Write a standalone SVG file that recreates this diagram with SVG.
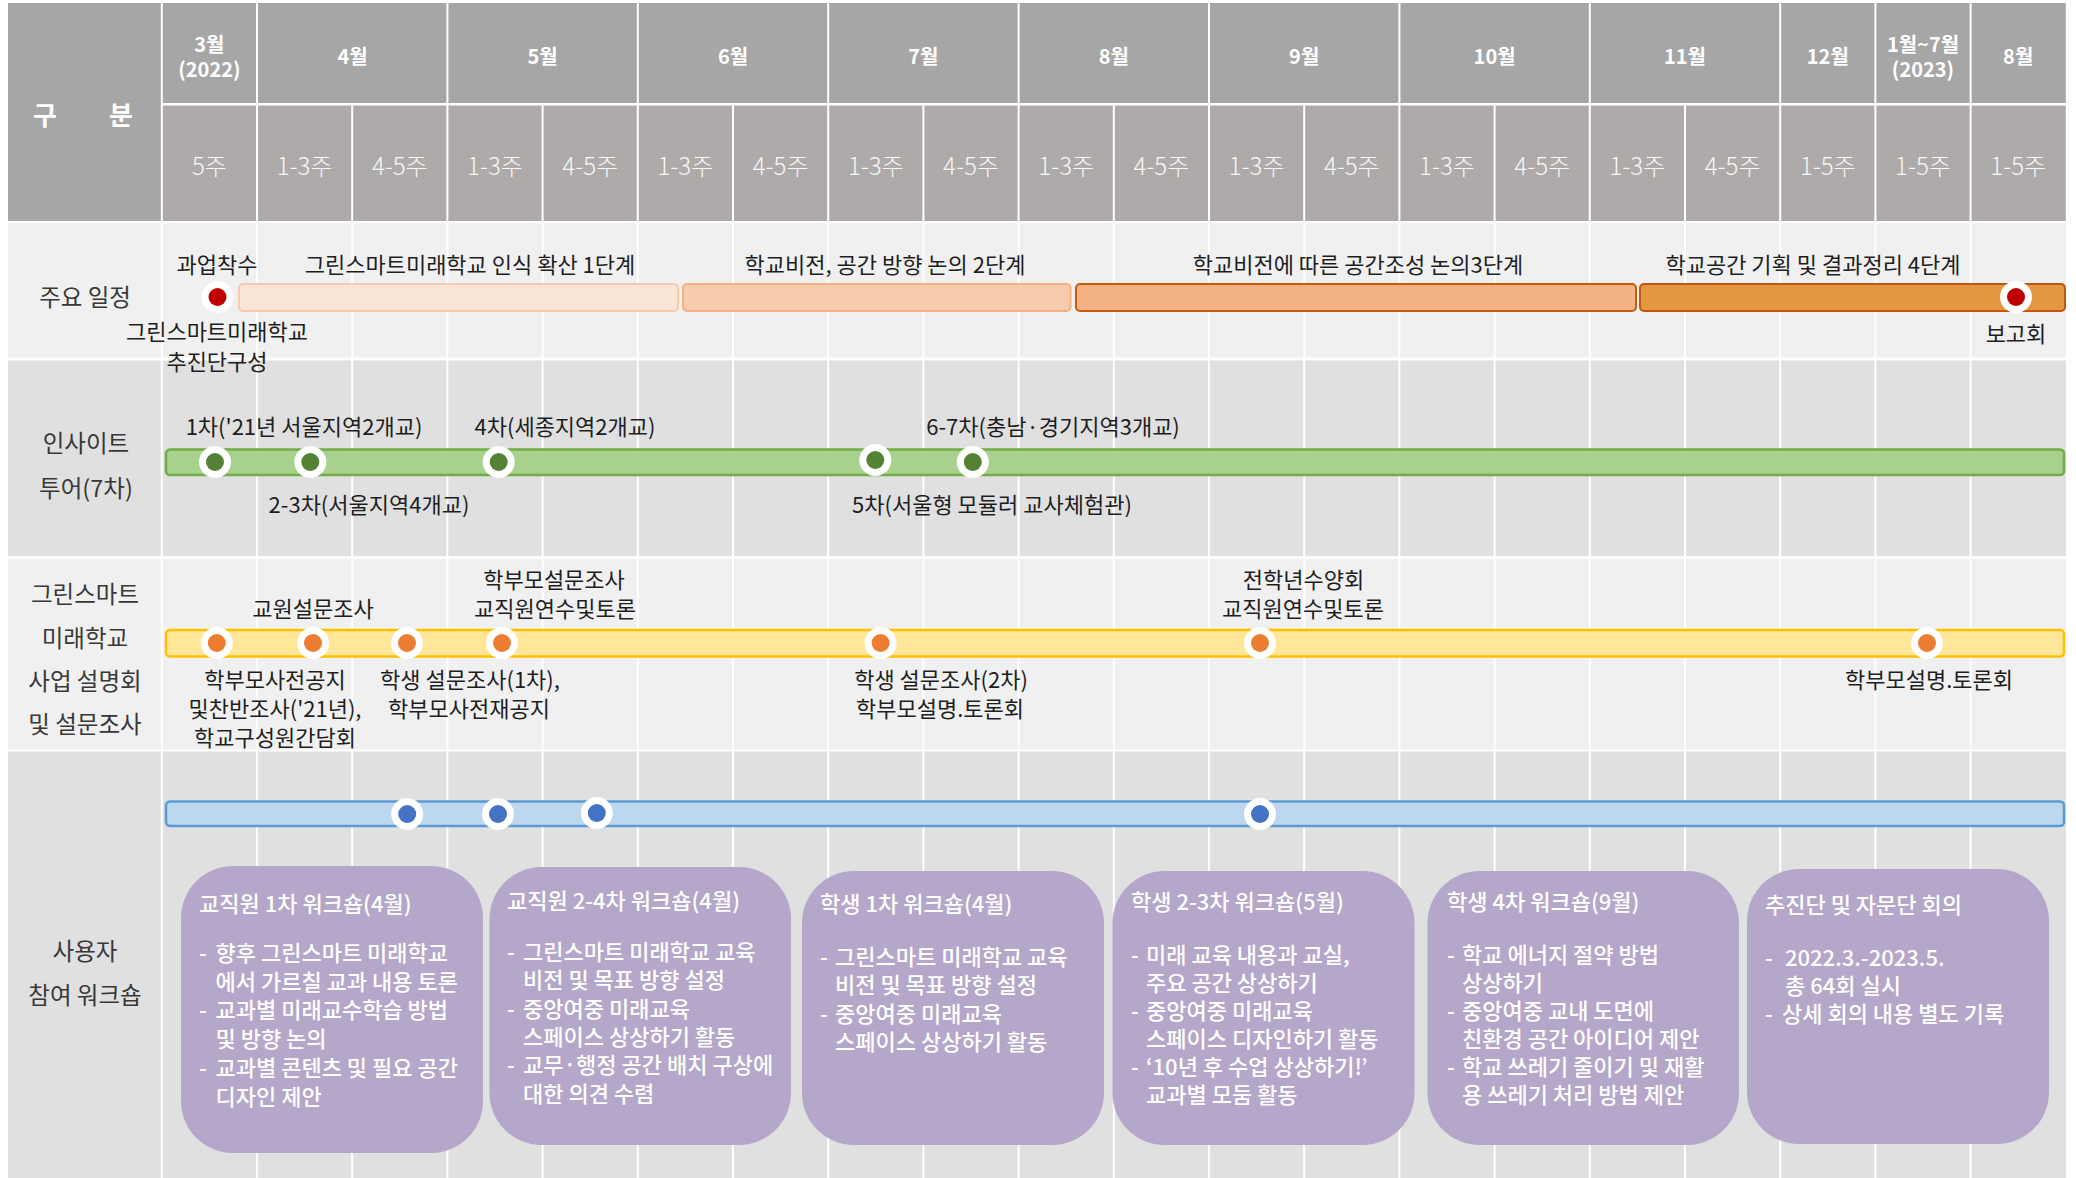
<svg xmlns="http://www.w3.org/2000/svg" width="2076" height="1178" viewBox="0 0 2076 1178">
<style>
text{font-family:'Noto Sans CJK KR','Noto Sans',sans-serif;dominant-baseline:central}
.hm{fill:#a6a6a6}
.hw{fill:#aeaaaa}
.mt{fill:#fff;font-size:20px;font-weight:bold;text-anchor:middle}
.wt{fill:#f8f8f8;font-size:24px;font-weight:300;text-anchor:middle}
.rl{fill:#383838;font-size:23.5px;text-anchor:middle}
.lb{fill:#1e1e1e;font-size:22px;text-anchor:middle}
.vl{stroke:#fff;stroke-width:2}
.ring{fill:#fff}
.box{fill:#b4a7c9}
.bt{fill:#fff;font-size:22px;font-weight:500}
</style>
<rect width="2076" height="1178" fill="#fff"/>
<g id="header">
<rect class="hm" x="8" y="3" width="152.8" height="218"/>
<text x="45" y="113" fill="#fff" font-size="26" font-weight="bold" text-anchor="middle">구</text>
<text x="121" y="113" fill="#fff" font-size="26" font-weight="bold" text-anchor="middle">분</text>
<g id="months">
<rect class="hm" x="162.8" y="3" width="93.2" height="100"/>
<rect class="hm" x="258" y="3" width="188.4" height="100"/>
<rect class="hm" x="448.4" y="3" width="188.4" height="100"/>
<rect class="hm" x="638.8" y="3" width="188.4" height="100"/>
<rect class="hm" x="829.2" y="3" width="188.4" height="100"/>
<rect class="hm" x="1019.6" y="3" width="188.4" height="100"/>
<rect class="hm" x="1210" y="3" width="188.4" height="100"/>
<rect class="hm" x="1400.4" y="3" width="188.4" height="100"/>
<rect class="hm" x="1590.8" y="3" width="188.4" height="100"/>
<rect class="hm" x="1781.2" y="3" width="93.2" height="100"/>
<rect class="hm" x="1876.4" y="3" width="93.2" height="100"/>
<rect class="hm" x="1971.6" y="3" width="94.2" height="100"/>
<text class="mt" x="209.4" y="43">3월</text>
<text class="mt" x="209.4" y="68">(2022)</text>
<text class="mt" x="352.6" y="55">4월</text>
<text class="mt" x="542.6" y="55">5월</text>
<text class="mt" x="733" y="55">6월</text>
<text class="mt" x="923.4" y="55">7월</text>
<text class="mt" x="1113.8" y="55">8월</text>
<text class="mt" x="1304.2" y="55">9월</text>
<text class="mt" x="1494.6" y="55">10월</text>
<text class="mt" x="1685" y="55">11월</text>
<text class="mt" x="1827.8" y="55">12월</text>
<text class="mt" x="1923" y="43">1월~7월</text>
<text class="mt" x="1923" y="68">(2023)</text>
<text class="mt" x="2018.2" y="55">8월</text>
</g>
<g id="weeks">
<rect class="hw" x="162.8" y="105.5" width="1903" height="115.5"/>
<line class="vl" x1="257" y1="105" x2="257" y2="221"/>
<line class="vl" x1="352.2" y1="105" x2="352.2" y2="221"/>
<line class="vl" x1="447.4" y1="105" x2="447.4" y2="221"/>
<line class="vl" x1="542.6" y1="105" x2="542.6" y2="221"/>
<line class="vl" x1="637.8" y1="105" x2="637.8" y2="221"/>
<line class="vl" x1="733" y1="105" x2="733" y2="221"/>
<line class="vl" x1="828.2" y1="105" x2="828.2" y2="221"/>
<line class="vl" x1="923.4" y1="105" x2="923.4" y2="221"/>
<line class="vl" x1="1018.6" y1="105" x2="1018.6" y2="221"/>
<line class="vl" x1="1113.8" y1="105" x2="1113.8" y2="221"/>
<line class="vl" x1="1209" y1="105" x2="1209" y2="221"/>
<line class="vl" x1="1304.2" y1="105" x2="1304.2" y2="221"/>
<line class="vl" x1="1399.4" y1="105" x2="1399.4" y2="221"/>
<line class="vl" x1="1494.6" y1="105" x2="1494.6" y2="221"/>
<line class="vl" x1="1589.8" y1="105" x2="1589.8" y2="221"/>
<line class="vl" x1="1685" y1="105" x2="1685" y2="221"/>
<line class="vl" x1="1780.2" y1="105" x2="1780.2" y2="221"/>
<line class="vl" x1="1875.4" y1="105" x2="1875.4" y2="221"/>
<line class="vl" x1="1970.6" y1="105" x2="1970.6" y2="221"/>
<text class="wt" x="209.4" y="164">5주</text>
<text class="wt" x="304.6" y="164">1-3주</text>
<text class="wt" x="399.8" y="164">4-5주</text>
<text class="wt" x="495" y="164">1-3주</text>
<text class="wt" x="590.2" y="164">4-5주</text>
<text class="wt" x="685.4" y="164">1-3주</text>
<text class="wt" x="780.6" y="164">4-5주</text>
<text class="wt" x="875.8" y="164">1-3주</text>
<text class="wt" x="971" y="164">4-5주</text>
<text class="wt" x="1066.2" y="164">1-3주</text>
<text class="wt" x="1161.4" y="164">4-5주</text>
<text class="wt" x="1256.6" y="164">1-3주</text>
<text class="wt" x="1351.8" y="164">4-5주</text>
<text class="wt" x="1447" y="164">1-3주</text>
<text class="wt" x="1542.2" y="164">4-5주</text>
<text class="wt" x="1637.4" y="164">1-3주</text>
<text class="wt" x="1732.6" y="164">4-5주</text>
<text class="wt" x="1827.8" y="164">1-5주</text>
<text class="wt" x="1923" y="164">1-5주</text>
<text class="wt" x="2018.2" y="164">1-5주</text>
</g>
</g>
<g id="rows">
<rect x="8" y="223" width="2058" height="134.5" fill="#f0f0f0"/>
<rect x="8" y="360.5" width="2058" height="195.5" fill="#e0e0e0"/>
<rect x="8" y="559" width="2058" height="190.5" fill="#f0f0f0"/>
<rect x="8" y="751.5" width="2058" height="426.5" fill="#e0e0e0"/>
<g id="gridlines">
<line class="vl" x1="161.8" y1="222" x2="161.8" y2="1178"/>
<line class="vl" x1="257" y1="222" x2="257" y2="1178"/>
<line class="vl" x1="352.2" y1="222" x2="352.2" y2="1178"/>
<line class="vl" x1="447.4" y1="222" x2="447.4" y2="1178"/>
<line class="vl" x1="542.6" y1="222" x2="542.6" y2="1178"/>
<line class="vl" x1="637.8" y1="222" x2="637.8" y2="1178"/>
<line class="vl" x1="733" y1="222" x2="733" y2="1178"/>
<line class="vl" x1="828.2" y1="222" x2="828.2" y2="1178"/>
<line class="vl" x1="923.4" y1="222" x2="923.4" y2="1178"/>
<line class="vl" x1="1018.6" y1="222" x2="1018.6" y2="1178"/>
<line class="vl" x1="1113.8" y1="222" x2="1113.8" y2="1178"/>
<line class="vl" x1="1209" y1="222" x2="1209" y2="1178"/>
<line class="vl" x1="1304.2" y1="222" x2="1304.2" y2="1178"/>
<line class="vl" x1="1399.4" y1="222" x2="1399.4" y2="1178"/>
<line class="vl" x1="1494.6" y1="222" x2="1494.6" y2="1178"/>
<line class="vl" x1="1589.8" y1="222" x2="1589.8" y2="1178"/>
<line class="vl" x1="1685" y1="222" x2="1685" y2="1178"/>
<line class="vl" x1="1780.2" y1="222" x2="1780.2" y2="1178"/>
<line class="vl" x1="1875.4" y1="222" x2="1875.4" y2="1178"/>
<line class="vl" x1="1970.6" y1="222" x2="1970.6" y2="1178"/>
</g>
<text class="rl" x="85" y="296">주요 일정</text>
<text class="rl" x="86" y="442">인사이트</text>
<text class="rl" x="86" y="487">투어(7차)</text>
<text class="rl" x="85" y="593">그린스마트</text>
<text class="rl" x="85" y="637">미래학교</text>
<text class="rl" x="85" y="680">사업 설명회</text>
<text class="rl" x="85" y="723">및 설문조사</text>
<text class="rl" x="85" y="950">사용자</text>
<text class="rl" x="85" y="994">참여 워크숍</text>
</g>
<g id="connectors">
<rect x="239" y="284" width="439" height="27" rx="4" fill="#fbe5d6" stroke="#f8cbad" stroke-width="2"/>
<rect x="683" y="284" width="387.5" height="27" rx="4" fill="#f8cbad" stroke="#f4b183" stroke-width="2"/>
<rect x="1076" y="284" width="560" height="27" rx="4" fill="#f4b183" stroke="#c55a11" stroke-width="2"/>
<rect x="1640" y="284" width="425" height="27" rx="4" fill="#e49640" stroke="#c0560f" stroke-width="2"/>
<rect x="166" y="449.5" width="1898" height="25.5" rx="4" fill="#a9d18e" stroke="#70ad47" stroke-width="2.5"/>
<rect x="166" y="630" width="1898" height="26.5" rx="4" fill="#ffe699" stroke="#ffc000" stroke-width="2.5"/>
<rect x="166" y="801.5" width="1898" height="24.5" rx="4" fill="#bdd7ee" stroke="#5b9bd5" stroke-width="2.5"/>
</g>
<g id="schedule">
<g id="n-start"><circle class="ring" cx="217.5" cy="297" r="16"/><circle cx="217.5" cy="297" r="9" fill="#c00000"/>
<text class="lb" x="217" y="263">과업착수</text>
<text class="lb" x="217" y="330">그린스마트미래학교</text>
<text class="lb" x="217" y="360">추진단구성</text></g>
<text id="n-s1" class="lb" x="470" y="263">그린스마트미래학교 인식 확산 1단계</text>
<text id="n-s2" class="lb" x="885" y="263">학교비전, 공간 방향 논의 2단계</text>
<text id="n-s3" class="lb" x="1358" y="263">학교비전에 따른 공간조성 논의3단계</text>
<text id="n-s4" class="lb" x="1813" y="263">학교공간 기획 및 결과정리 4단계</text>
<g id="n-report"><circle class="ring" cx="2016" cy="297" r="16"/><circle cx="2016" cy="297" r="9" fill="#c00000"/>
<text class="lb" x="2016" y="332">보고회</text></g>
</g>
<g id="tour">
<g id="n-t1"><circle class="ring" cx="215" cy="462" r="16"/><circle cx="215" cy="462" r="9" fill="#548235"/><text class="lb" x="304" y="425">1차('21년 서울지역2개교)</text></g>
<g id="n-t23"><circle class="ring" cx="310.3" cy="462" r="16"/><circle cx="310.3" cy="462" r="9" fill="#548235"/><text class="lb" x="369" y="503">2-3차(서울지역4개교)</text></g>
<g id="n-t4"><circle class="ring" cx="498.7" cy="462" r="16"/><circle cx="498.7" cy="462" r="9" fill="#548235"/><text class="lb" x="565" y="425">4차(세종지역2개교)</text></g>
<g id="n-t5"><circle class="ring" cx="875.3" cy="460" r="16"/><circle cx="875.3" cy="460" r="9" fill="#548235"/><text class="lb" x="992" y="503">5차(서울형 모듈러 교사체험관)</text></g>
<g id="n-t67"><circle class="ring" cx="972.8" cy="462" r="16"/><circle cx="972.8" cy="462" r="9" fill="#548235"/><text class="lb" x="1053" y="425">6-7차(충남·경기지역3개교)</text></g>
</g>
<g id="survey">
<g id="n-v1"><circle class="ring" cx="216.8" cy="643" r="16"/><circle cx="216.8" cy="643" r="9" fill="#ed7d31"/>
<text class="lb" x="275" y="678">학부모사전공지</text>
<text class="lb" x="275" y="707">및찬반조사('21년),</text>
<text class="lb" x="275" y="736">학교구성원간담회</text></g>
<g id="n-v2"><circle class="ring" cx="313" cy="643" r="16"/><circle cx="313" cy="643" r="9" fill="#ed7d31"/>
<text class="lb" x="313" y="607">교원설문조사</text></g>
<g id="n-v3"><circle class="ring" cx="407" cy="643" r="16"/><circle cx="407" cy="643" r="9" fill="#ed7d31"/>
<text class="lb" x="470" y="678">학생 설문조사(1차),</text>
<text class="lb" x="469" y="707">학부모사전재공지</text></g>
<g id="n-v4"><circle class="ring" cx="502" cy="643" r="16"/><circle cx="502" cy="643" r="9" fill="#ed7d31"/>
<text class="lb" x="554" y="578">학부모설문조사</text>
<text class="lb" x="555" y="607">교직원연수및토론</text></g>
<g id="n-v5"><circle class="ring" cx="880.6" cy="643" r="16"/><circle cx="880.6" cy="643" r="9" fill="#ed7d31"/>
<text class="lb" x="941" y="678">학생 설문조사(2차)</text>
<text class="lb" x="940" y="707">학부모설명.토론회</text></g>
<g id="n-v6"><circle class="ring" cx="1260" cy="643" r="16"/><circle cx="1260" cy="643" r="9" fill="#ed7d31"/>
<text class="lb" x="1303.5" y="578">전학년수양회</text>
<text class="lb" x="1303" y="607">교직원연수및토론</text></g>
<g id="n-v7"><circle class="ring" cx="1927" cy="643" r="16"/><circle cx="1927" cy="643" r="9" fill="#ed7d31"/>
<text class="lb" x="1929" y="678">학부모설명.토론회</text></g>
</g>
<g id="workshop-dots">
<g id="n-w1"><circle class="ring" cx="407.2" cy="814" r="16"/><circle cx="407.2" cy="814" r="9" fill="#4472c4"/></g>
<g id="n-w2"><circle class="ring" cx="498" cy="814" r="16"/><circle cx="498" cy="814" r="9" fill="#4472c4"/></g>
<g id="n-w3"><circle class="ring" cx="596.8" cy="813" r="16"/><circle cx="596.8" cy="813" r="9" fill="#4472c4"/></g>
<g id="n-w4"><circle class="ring" cx="1260" cy="814" r="16"/><circle cx="1260" cy="814" r="9" fill="#4472c4"/></g>
</g>
<g id="box1">
<rect class="box" x="181" y="866" width="302" height="287" rx="52"/>
<text class="bt" x="199" y="902">교직원 1차 워크숍(4월)</text>
<text class="bt" x="199" y="951">-</text><text class="bt" x="215.5" y="951">향후 그린스마트 미래학교</text>
<text class="bt" x="215.5" y="980">에서 가르칠 교과 내용 토론</text>
<text class="bt" x="199" y="1008">-</text><text class="bt" x="215.5" y="1008">교과별 미래교수학습 방법</text>
<text class="bt" x="215.5" y="1037">및 방향 논의</text>
<text class="bt" x="199" y="1066">-</text><text class="bt" x="215.5" y="1066">교과별 콘텐츠 및 필요 공간</text>
<text class="bt" x="215.5" y="1095">디자인 제안</text>
</g>
<g id="box2">
<rect class="box" x="489.5" y="867" width="301.5" height="278" rx="52"/>
<text class="bt" x="507" y="899">교직원 2-4차 워크숍(4월)</text>
<text class="bt" x="507" y="950">-</text><text class="bt" x="523" y="950">그린스마트 미래학교 교육</text>
<text class="bt" x="523" y="978">비전 및 목표 방향 설정</text>
<text class="bt" x="507" y="1007">-</text><text class="bt" x="523" y="1007">중앙여중 미래교육</text>
<text class="bt" x="523" y="1035">스페이스 상상하기 활동</text>
<text class="bt" x="507" y="1063">-</text><text class="bt" x="523" y="1063">교무·행정 공간 배치 구상에</text>
<text class="bt" x="523" y="1092">대한 의견 수렴</text>
</g>
<g id="box3">
<rect class="box" x="802" y="871" width="302" height="274" rx="52"/>
<text class="bt" x="820" y="902">학생 1차 워크숍(4월)</text>
<text class="bt" x="820" y="955">-</text><text class="bt" x="835" y="955">그린스마트 미래학교 교육</text>
<text class="bt" x="835" y="983">비전 및 목표 방향 설정</text>
<text class="bt" x="820" y="1012">-</text><text class="bt" x="835" y="1012">중앙여중 미래교육</text>
<text class="bt" x="835" y="1040">스페이스 상상하기 활동</text>
</g>
<g id="box4">
<rect class="box" x="1112.5" y="871" width="302" height="274" rx="52"/>
<text class="bt" x="1131" y="900">학생 2-3차 워크숍(5월)</text>
<text class="bt" x="1131" y="953">-</text><text class="bt" x="1146" y="953">미래 교육 내용과 교실,</text>
<text class="bt" x="1146" y="981">주요 공간 상상하기</text>
<text class="bt" x="1131" y="1009">-</text><text class="bt" x="1146" y="1009">중앙여중 미래교육</text>
<text class="bt" x="1146" y="1037">스페이스 디자인하기 활동</text>
<text class="bt" x="1131" y="1065">-</text><text class="bt" x="1146" y="1065">‘10년 후 수업 상상하기!’</text>
<text class="bt" x="1146" y="1093">교과별 모둠 활동</text>
</g>
<g id="box5">
<rect class="box" x="1427.5" y="871" width="311.5" height="274" rx="52"/>
<text class="bt" x="1447" y="900">학생 4차 워크숍(9월)</text>
<text class="bt" x="1447" y="953">-</text><text class="bt" x="1462" y="953">학교 에너지 절약 방법</text>
<text class="bt" x="1462" y="981">상상하기</text>
<text class="bt" x="1447" y="1009">-</text><text class="bt" x="1462" y="1009">중앙여중 교내 도면에</text>
<text class="bt" x="1462" y="1037">친환경 공간 아이디어 제안</text>
<text class="bt" x="1447" y="1065">-</text><text class="bt" x="1462" y="1065">학교 쓰레기 줄이기 및 재활</text>
<text class="bt" x="1462" y="1093">용 쓰레기 처리 방법 제안</text>
</g>
<g id="box6">
<rect class="box" x="1747" y="869" width="302" height="275" rx="52"/>
<text class="bt" x="1765" y="903">추진단 및 자문단 회의</text>
<text class="bt" x="1765" y="956">-</text><text class="bt" x="1785" y="956">2022.3.-2023.5.</text>
<text class="bt" x="1785" y="984">총 64회 실시</text>
<text class="bt" x="1765" y="1012">-</text><text class="bt" x="1782" y="1012">상세 회의 내용 별도 기록</text>
</g>
</svg>
